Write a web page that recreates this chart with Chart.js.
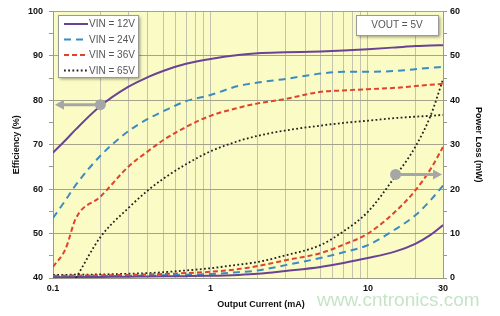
<!DOCTYPE html>
<html>
<head>
<meta charset="utf-8">
<script src="https://cdn.jsdelivr.net/npm/chart.js@4/dist/chart.umd.min.js"></script>
<style>
  body { margin: 0; background: #fff; }
  #wrap { width: 500px; height: 316px; position: relative; }
</style>
</head>
<body>
<div id="wrap"><canvas id="effChart"></canvas></div>
<script>
// output current (mA), shared by all curves
const current = [0.1, 0.12, 0.14, 0.2, 0.3, 0.4, 0.5, 0.7, 1, 1.5, 2, 3, 5, 7, 10, 15, 20, 25, 30];

// efficiency (%), left axis
const eff12 = [68.2, 71, 73.5, 78.7, 83, 85.2, 86.6, 88.2, 89.3, 90.2, 90.6, 90.8, 91.0, 91.2, 91.5, 91.9, 92.2, 92.3, 92.4];
const eff24 = [53.5, 57.5, 61, 67.5, 73, 75.8, 77.5, 79.8, 81.2, 83.2, 84, 84.8, 86, 86.4, 86.4, 86.6, 87, 87.3, 87.5];
const eff36 = [42.5, 46.5, 53.5, 58.3, 65, 68.5, 71, 74, 76.5, 78.3, 79.3, 80.3, 81.9, 82.2, 82.5, 82.8, 83.2, 83.5, 83.7];
const eff65 = [null, null, 40, 49.2, 55.7, 59.7, 62.3, 65.6, 68.5, 70.8, 72, 73.2, 74.3, 74.9, 75.4, 76, 76.3, 76.5, 76.7];

// power loss (mW), right axis
const loss12 = [0.15, 0.17, 0.2, 0.25, 0.3, 0.35, 0.38, 0.42, 0.5, 0.7, 0.95, 1.6, 2.5, 3.4, 4.5, 6.0, 7.7, 9.7, 11.9];
const loss24 = [0.3, 0.32, 0.35, 0.4, 0.5, 0.55, 0.6, 0.75, 0.9, 1.3, 1.7, 2.9, 4.5, 5.8, 7.4, 11, 14.1, 17.5, 20.8];
const loss36 = [0.5, 0.52, 0.55, 0.6, 0.7, 0.8, 0.9, 1.1, 1.4, 2.0, 2.7, 4.0, 5.6, 7.5, 10, 15, 19.7, 24.5, 29.5];
const loss65 = [0.7, 0.72, 0.75, 0.8, 0.95, 1.1, 1.3, 1.7, 2.2, 3.0, 3.6, 5.1, 7.4, 10.5, 14.9, 23, 29.5, 36.5, 44.7];

const seriesNames = ['VIN = 12V', 'VIN = 24V', 'VIN = 36V', 'VIN = 65V'];

// x grid / tick values
const xGrid = [0.1, 0.2, 0.3, 0.4, 0.5, 0.6, 0.7, 0.8, 0.9, 1, 2, 3, 4, 5, 6, 7, 8, 9, 10, 20, 30];
const xLabels = [0.1, 1, 10, 30];

// arrow markers: [current, value]
const effMarker = [0.2, 79];
const lossMarker = [15, 23.3];

const font = 'Liberation Sans, Arial, sans-serif';
const colors = ['#6b4394', '#3a8cc2', '#e0432b', '#222222'];
const dashes = [[], [7, 5], [5, 3], [1.8, 2.4]];
const widths = [2, 2, 2, 1.8];

function pts(ys) {
    return current.map((x, i) => ({ x: x, y: ys[i] })).filter(p => p.y !== null);
}

function makeSet(i, ys, axis) {
    return {
        label: seriesNames[i],
        data: pts(ys),
        yAxisID: axis,
        borderColor: colors[i],
        borderWidth: widths[i],
        borderDash: dashes[i],
        pointRadius: 0,
        fill: false,
        cubicInterpolationMode: 'monotone'
    };
}

const effSets = [eff12, eff24, eff36, eff65].map((ys, i) => makeSet(i, ys, 'y'));
const lossSets = [loss12, loss24, loss36, loss65].map((ys, i) => makeSet(i, ys, 'y1'));

// plot background, boxes, arrows, titles, watermark
const decor = {
    id: 'decor',
    beforeDraw(chart) {
        const a = chart.chartArea, ctx = chart.ctx;
        ctx.save();
        ctx.fillStyle = '#fbfbc6';
        ctx.fillRect(a.left, a.top, a.right - a.left, a.bottom - a.top);
        ctx.restore();
    },
    afterDatasetsDraw(chart) {
        const ctx = chart.ctx, x = chart.scales.x, y = chart.scales.y, y1 = chart.scales.y1;
        const a = chart.chartArea;

        function arrow(px, py, tx) {
            ctx.save();
            ctx.strokeStyle = '#a6a6a6';
            ctx.fillStyle = '#a6a6a6';
            ctx.lineWidth = 3;
            ctx.beginPath();
            ctx.moveTo(px, py);
            const dir = tx < px ? -1 : 1;
            ctx.lineTo(tx - dir * 6, py);
            ctx.stroke();
            ctx.beginPath();
            ctx.moveTo(tx, py);
            ctx.lineTo(tx - dir * 9, py - 5);
            ctx.lineTo(tx - dir * 9, py + 5);
            ctx.closePath();
            ctx.fill();
            ctx.beginPath();
            ctx.arc(px, py, 5.5, 0, Math.PI * 2);
            ctx.fill();
            ctx.restore();
        }
        arrow(x.getPixelForValue(effMarker[0]), y.getPixelForValue(effMarker[1]), a.left + 2);
        arrow(x.getPixelForValue(lossMarker[0]), y1.getPixelForValue(lossMarker[1]), a.right - 1);

        function box(bx, by, bw, bh) {
            ctx.save();
            ctx.shadowColor = 'rgba(0,0,0,0.4)';
            ctx.shadowOffsetX = 2;
            ctx.shadowOffsetY = 2;
            ctx.shadowBlur = 3;
            ctx.fillStyle = '#ffffff';
            ctx.fillRect(bx, by, bw, bh);
            ctx.restore();
            ctx.save();
            ctx.strokeStyle = '#9a9a9a';
            ctx.lineWidth = 1;
            ctx.strokeRect(bx + 0.5, by + 0.5, bw, bh);
            ctx.restore();
        }

        // legend
        box(58, 15, 80, 62);
        chart.data.datasets.slice(0, 4).forEach((ds, i) => {
            const ly = 24 + i * 15.5;
            ctx.save();
            ctx.strokeStyle = ds.borderColor;
            ctx.lineWidth = ds.borderWidth;
            ctx.setLineDash(ds.borderDash);
            ctx.beginPath();
            ctx.moveTo(64, ly);
            ctx.lineTo(88, ly);
            ctx.stroke();
            ctx.setLineDash([]);
            ctx.fillStyle = '#555';
            ctx.font = '10px ' + font;
            ctx.textBaseline = 'middle';
            ctx.fillText(ds.label, 89, ly + 0.5);
            ctx.restore();
        });

        // VOUT box
        box(356, 15, 82, 20);
        ctx.save();
        ctx.fillStyle = '#555';
        ctx.font = '10px ' + font;
        ctx.textAlign = 'center';
        ctx.textBaseline = 'middle';
        ctx.fillText('VOUT = 5V', 397, 25.5);
        ctx.restore();
    },
    afterDraw(chart) {
        const ctx = chart.ctx, a = chart.chartArea;
        ctx.save();
        ctx.fillStyle = '#111';
        ctx.font = 'bold 9px ' + font;
        ctx.textAlign = 'center';
        ctx.textBaseline = 'middle';
        ctx.fillText('Output Current (mA)', 261, 305);
        ctx.translate(478, (a.top + a.bottom) / 2);
        ctx.rotate(Math.PI / 2);
        ctx.fillText('Power Loss (mW)', 0, 0);
        ctx.restore();

        ctx.save();
        ctx.fillStyle = 'rgba(150, 205, 150, 0.55)';
        ctx.font = '19px ' + font;
        ctx.textBaseline = 'middle';
        ctx.fillText('www.cntronics.com', 317, 301);
        ctx.restore();
    }
};

const tickFont = { family: font, size: 9, weight: 'bold' };

const chart = new Chart(document.getElementById('effChart').getContext('2d'), {
    type: 'line',
    data: { datasets: effSets.concat(lossSets) },
    options: {
        responsive: true,
        maintainAspectRatio: false,
        animation: false,
        layout: { padding: { top: 10, left: 0, right: 0, bottom: 0 } },
        plugins: {
            legend: { display: false },
            tooltip: { enabled: false }
        },
        scales: {
            x: {
                type: 'logarithmic',
                min: 0.1,
                max: 30,
                afterBuildTicks: s => { s.ticks = xGrid.map(v => ({ value: v })); },
                afterFit: s => { s.height = 38; },
                ticks: {
                    autoSkip: false,
                    maxRotation: 0,
                    padding: 5,
                    color: '#111',
                    font: tickFont,
                    callback: v => xLabels.includes(v) ? String(v) : ''
                },
                grid: { color: '#c4c4ae', drawTicks: false },
                border: { color: '#9a9a88' }
            },
            y: {
                position: 'left',
                min: 40,
                max: 100,
                afterFit: s => { s.width = 53; },
                ticks: {
                    stepSize: 5,
                    autoSkip: false,
                    padding: 6,
                    color: '#111',
                    font: tickFont,
                    callback: v => v % 10 === 0 ? v : ''
                },
                grid: {
                    color: c => c.tick && c.tick.value % 10 === 0 ? '#a4a48c' : 'rgba(0,0,0,0)',
                    tickColor: '#9a9a88',
                    tickLength: 4
                },
                border: { color: '#9a9a88' },
                title: {
                    display: true,
                    text: 'Efficiency (%)',
                    color: '#111',
                    font: tickFont,
                    padding: { top: 11, bottom: 0 }
                }
            },
            y1: {
                position: 'right',
                min: 0,
                max: 60,
                afterFit: s => { s.width = 57; },
                ticks: {
                    stepSize: 5,
                    autoSkip: false,
                    padding: 3,
                    color: '#111',
                    font: tickFont,
                    callback: v => v % 10 === 0 ? v : ''
                },
                grid: {
                    drawOnChartArea: false,
                    tickColor: '#9a9a88',
                    tickLength: 4
                },
                border: { color: '#9a9a88' }
            }
        }
    },
    plugins: [decor]
});
</script>
</body>
</html>
